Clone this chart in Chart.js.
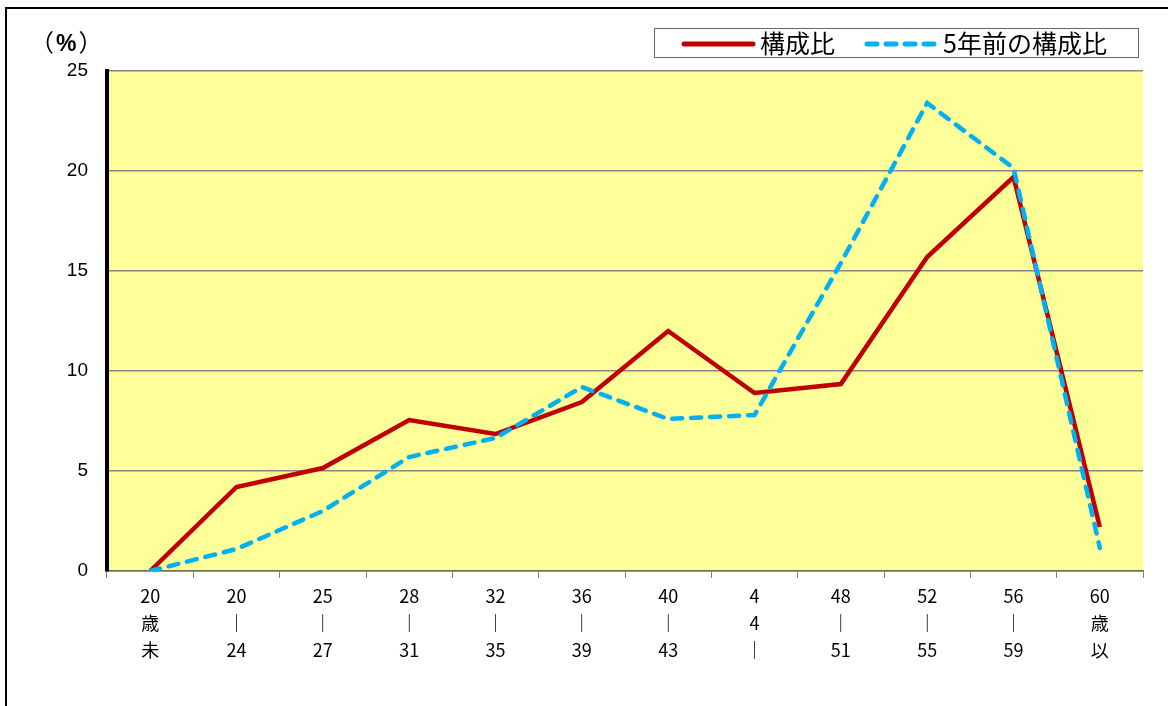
<!DOCTYPE html>
<html lang="ja">
<head>
<meta charset="utf-8">
<script src="https://cdn.jsdelivr.net/npm/chart.js@4"></script>
<style>
  html, body { margin: 0; padding: 0; background: #fff; }
  #wrap { position: relative; width: 1168px; height: 706px; overflow: hidden; font-family: 'Noto Sans CJK JP', sans-serif; }
  #frame { position: absolute; left: 5px; top: 7px; width: 1300px; height: 800px; border-left: 2px solid #000; border-top: 2px solid #000; }
  #chart { position: absolute; left: 0; top: 0; }
  #unit { position: absolute; left: 30px; top: 29px; font-size: 24px; line-height: 1; color: #000; letter-spacing: 2px; }
  #unit b { font-family: 'Liberation Sans', Arial, sans-serif; font-size: 23px; }
  #legend { position: absolute; left: 654px; top: 28px; width: 483px; height: 28px; border: 1px solid #666; background: #fff; }
  .lg-text { position: absolute; top: 1px; font-size: 25px; line-height: 1; color: #000; white-space: nowrap; }
  .lg-mark { position: absolute; top: 10px; }
</style>
</head>
<body>
<div id="wrap">
  <div id="frame"></div>
  <canvas id="chart" width="1168" height="706"></canvas>
  <div id="unit">（<b>%</b>）</div>
  <div id="legend">
    <svg class="lg-mark" style="left:26px" width="76" height="10"><line x1="3" y1="5" x2="72" y2="5" stroke="#C00000" stroke-width="5" stroke-linecap="round"/></svg>
    <span class="lg-text" style="left:105px">構成比</span>
    <svg class="lg-mark" style="left:208px" width="76" height="10"><line x1="4" y1="5" x2="76" y2="5" stroke="#00B0F0" stroke-width="5" stroke-linecap="round" stroke-dasharray="10 9"/></svg>
    <span class="lg-text" style="left:288px">5年前の構成比</span>
  </div>
</div>
<script>
const categories = [
  ['20', '歳', '未'],
  ['20', '｜', '24'],
  ['25', '｜', '27'],
  ['28', '｜', '31'],
  ['32', '｜', '35'],
  ['36', '｜', '39'],
  ['40', '｜', '43'],
  ['4', '4', '｜'],
  ['48', '｜', '51'],
  ['52', '｜', '55'],
  ['56', '｜', '59'],
  ['60', '歳', '以']
];
const shareNow = [0, 4.2, 5.15, 7.55, 6.85, 8.45, 12.0, 8.9, 9.35, 15.7, 19.7, 2.2];
const shareFiveYearsAgo = [0, 1.1, 3.0, 5.7, 6.65, 9.2, 7.6, 7.8, 15.4, 23.4, 20.15, 1.15];
const seriesNames = ['構成比', '5年前の構成比'];

const plotBackground = {
  id: 'plotBackground',
  beforeDraw(chart) {
    const { ctx, chartArea: a } = chart;
    ctx.save();
    ctx.fillStyle = '#FFFF99';
    ctx.fillRect(a.left, a.top, a.right - a.left, a.bottom - a.top);
    ctx.restore();
  }
};

new Chart(document.getElementById('chart'), {
  type: 'line',
  data: {
    labels: categories,
    datasets: [
      { label: seriesNames[0], data: shareNow, borderColor: '#C00000', borderWidth: 4.5, pointRadius: 0, tension: 0, order: 1 },
      { label: seriesNames[1], data: shareFiveYearsAgo, borderColor: '#00B0F0', borderWidth: 4.5, borderDash: [10, 9], borderCapStyle: 'round', pointRadius: 0, tension: 0, order: 0 }
    ]
  },
  options: {
    responsive: false,
    devicePixelRatio: 1,
    animation: false,
    layout: { padding: { top: 71, right: 25, left: 0, bottom: 0 } },
    plugins: { legend: { display: false }, tooltip: { enabled: false } },
    scales: {
      x: {
        offset: true,
        afterFit: (s) => { s.height = 135; },
        grid: { offset: true, drawOnChartArea: false, drawTicks: true, tickLength: 7, color: '#7f7f7f', lineWidth: 1 },
        border: { color: '#6f6f50', width: 1.5 },
        ticks: { color: '#000', padding: 5, maxRotation: 0, autoSkip: false, font: { family: "'Noto Sans CJK JP', sans-serif", size: 18, lineHeight: '27px' } }
      },
      y: {
        min: 0,
        max: 25,
        afterFit: (s) => { s.width = 107; },
        grid: { color: '#868686', lineWidth: 1.5, drawTicks: false },
        border: { color: '#000', width: 4 },
        ticks: { stepSize: 5, color: '#000', padding: 19, font: { family: "'Liberation Sans', Arial, sans-serif", size: 19 } }
      }
    }
  },
  plugins: [plotBackground]
});
</script>
</body>
</html>
